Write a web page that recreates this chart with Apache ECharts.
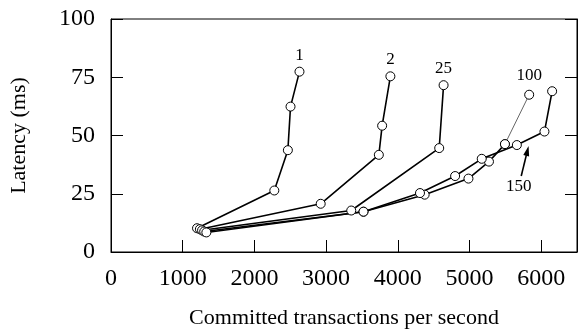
<!DOCTYPE html>
<html>
<head>
<meta charset="utf-8">
<script src="https://cdn.jsdelivr.net/npm/echarts@6/dist/echarts.min.js"></script>
<style>
  html, body { margin: 0; padding: 0; background: #fff; }
  #chart { width: 579px; height: 334px; }
</style>
</head>
<body>
<div id="chart"></div>
<script>
// Throughput (tx/s) vs latency (ms), one curve per client count
const clients1   = [[1200, 10.2], [2278, 26.4], [2467, 43.7], [2504, 62.4], [2629, 77.4]];
const clients2   = [[1240, 9.8], [2925, 20.7], [3736, 41.7], [3782, 54.2], [3897, 75.4]];
const clients25  = [[1270, 9.3], [3351, 17.8], [4578, 44.6], [4639, 71.6]];
const clients100 = [[1300, 8.8], [3522, 17.3], [4375, 24.6], [4986, 31.5], [5272, 38.8], [5495, 46.3], [5833, 67.5]];
const clients150 = [[1330, 8.4], [3522, 17.3], [4310, 25.3], [4800, 32.6], [5171, 40.0], [5661, 45.9], [6046, 51.7], [6153, 69.0]];

const curveNames = ['1', '2', '25', '100', '150'];
const xTicks = { min: 0, max: 6500, interval: 1000 };
const yTicks = { min: 0, max: 100, interval: 25 };

// Annotation for the 150-client curve: label spot and arrow (data units)
const label150At = [5689, 28.0];
const arrow150 = [[5722, 32.6], [5808, 43.4]];

const FONT = 'Liberation Serif';

function withEndLabel(data, text, dist) {
  return data.map((p, i) => i === data.length - 1
    ? { value: p, label: { show: true, formatter: text, position: 'top', distance: dist,
        fontFamily: FONT, fontSize: 17, color: '#000' } }
    : p);
}

const baseLine = {
  type: 'line',
  symbol: 'circle',
  symbolSize: 9,
  itemStyle: { color: '#fff', borderColor: '#000', borderWidth: 1 },
  lineStyle: { color: '#000', width: 1.6 },
  emphasis: { disabled: true },
  animation: false,
  z: 3
};

const chart = echarts.init(document.getElementById('chart'), null, { renderer: 'canvas' });

chart.setOption({
  animation: false,
  textStyle: { fontFamily: FONT },
  grid: { left: 109, top: 19, right: 2, bottom: 74, show: true, borderColor: '#000', borderWidth: 1 },
  xAxis: {
    type: 'value',
    min: xTicks.min, max: xTicks.max, interval: xTicks.interval,
    name: 'Committed transactions per second',
    nameLocation: 'middle', nameGap: 55,
    nameTextStyle: { fontFamily: FONT, fontSize: 22, color: '#000' },
    axisLine: { show: true, lineStyle: { color: '#000', width: 1 } },
    axisTick: { show: true, inside: true, length: 12, lineStyle: { color: '#000', width: 1 } },
    axisLabel: { fontFamily: FONT, fontSize: 24, color: '#000', margin: 15,
      formatter: v => String(v) },
    splitLine: { show: false }
  },
  yAxis: [{
    type: 'value',
    min: yTicks.min, max: yTicks.max, interval: yTicks.interval,
    name: 'Latency (ms)',
    nameLocation: 'middle', nameGap: 81,
    nameTextStyle: { fontFamily: FONT, fontSize: 22, color: '#000' },
    axisLine: { show: true, lineStyle: { color: '#000', width: 1 } },
    axisTick: { show: true, inside: true, length: 12, lineStyle: { color: '#000', width: 1 } },
    axisLabel: { fontFamily: FONT, fontSize: 24, color: '#000', margin: 16,
      formatter: v => String(v) },
    splitLine: { show: false }
  }, {
    type: 'value', position: 'right',
    min: yTicks.min, max: yTicks.max, interval: yTicks.interval,
    axisLine: { show: true, lineStyle: { color: '#000', width: 1 } },
    axisTick: { show: true, inside: true, length: 12, lineStyle: { color: '#000', width: 1 } },
    axisLabel: { show: false },
    splitLine: { show: false }
  }],
  series: [
    Object.assign({}, baseLine, { name: curveNames[0], data: withEndLabel(clients1, curveNames[0], 3) }),
    Object.assign({}, baseLine, { name: curveNames[1], data: withEndLabel(clients2, curveNames[1], 3) }),
    Object.assign({}, baseLine, { name: curveNames[2], data: withEndLabel(clients25, curveNames[2], 3) }),
    // 100 clients: main run plus a thin final segment
    Object.assign({}, baseLine, { name: curveNames[3], data: clients100.slice(0, clients100.length - 1) }),
    Object.assign({}, baseLine, {
      name: curveNames[3] + ' tail',
      data: withEndLabel(clients100.slice(clients100.length - 2), curveNames[3], 6),
      lineStyle: { color: '#555', width: 0.9 }
    }),
    Object.assign({}, baseLine, {
      name: curveNames[4],
      data: clients150,
      markPoint: {
        silent: true,
        symbol: 'circle', symbolSize: 0,
        label: { show: true, formatter: curveNames[4], position: 'inside',
          fontFamily: FONT, fontSize: 17, color: '#000' },
        data: [{ coord: label150At }]
      },
      markLine: {
        silent: true,
        symbol: ['none', 'triangle'],
        symbolSize: [6, 10],
        label: { show: false },
        lineStyle: { color: '#000', width: 1.6, type: 'solid' },
        data: [[{ coord: arrow150[0] }, { coord: arrow150[1] }]]
      }
    })
  ]
});
</script>
</body>
</html>
